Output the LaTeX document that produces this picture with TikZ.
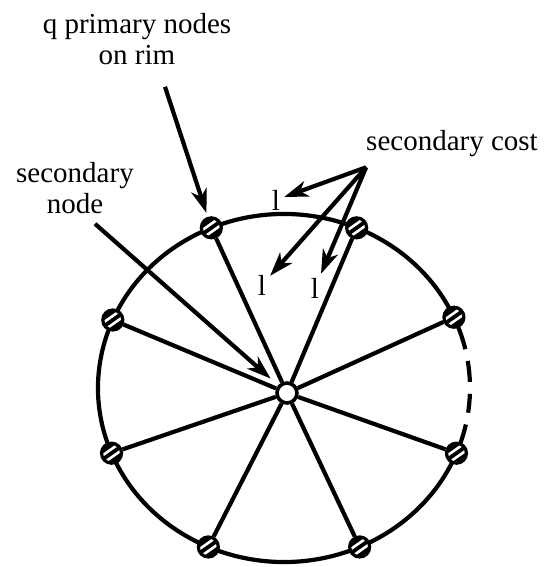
\documentclass[tikz,border=0pt]{standalone}
\usepackage{fontspec}
\setmainfont{Liberation Serif}
\usetikzlibrary{arrows.meta, positioning}

\begin{document}
\begin{tikzpicture}[
    x=1pt, y=1pt,
    line width=2.1pt,
    txt/.style={font=\fontsize{14.5}{15.5}\selectfont, align=center, inner sep=1pt},
    hub/.style={circle, draw, fill=white, minimum size=10pt, inner sep=0pt, line width=1.8pt},
    rim/.style={circle, draw, fill=black, minimum size=10pt, inner sep=0pt, line width=1.6pt,
        path picture={\draw[white, line width=1.3pt]
            (path picture bounding box.center) ++(-5.9pt,-2.1pt) -- ++(9.8pt,6.9pt)
            (path picture bounding box.center) ++(-3.9pt,-4.8pt) -- ++(9.8pt,6.9pt);}},
    arr/.style={-{Stealth[length=12pt, width=8pt, inset=3.5pt]}, line width=2.1pt}
]
    \useasboundingbox (-142,-89.5) rectangle (130,194);

    % Rim, dashed on the right
    \draw (24:93pt and 87pt) arc[start angle=24, end angle=338, x radius=93pt, y radius=87pt];
    \draw[dash pattern=on 17pt off 6pt on 10.5pt off 6pt on 9.5pt off 6pt on 30pt]
        (24:93pt and 87pt) arc[start angle=24, end angle=-22, x radius=93pt, y radius=87pt];

    % Primary nodes on the rim
    \foreach \ang [count=\i] in {24, 67, 113, 157, 202, 246, 294, 338}
        \node[rim] (p\i) at (\ang:93pt and 87pt) {};

    % Secondary node and spokes
    \node[hub] (hub) at (1.5,-2.5) {};
    \foreach \i in {1,...,8}
        \draw (hub) -- (p\i);

    % Labels
    \node[txt] (qlabel) at (-73.5,174.5) {q primary nodes\\on rim};
    \node[txt] (costlabel) at (84,122) {secondary cost};
    \node[txt] (seclabel) at (-104.5,100) {secondary\\node};
    \node[txt] (l1) at (-4,94) {l};
    \node[txt] (l2) at (-11,51.5) {l};
    \node[txt] (l3) at (15.5,50) {l};

    % Pointers
    \draw[arr, shorten >=2pt] ([xshift=14pt,yshift=-9pt]qlabel.south) -- (p3);
    \draw[arr, shorten >=5pt] ([xshift=10pt,yshift=-3pt]seclabel.south) -- (hub);
    \coordinate (fan) at ([xshift=2pt,yshift=-3pt]costlabel.south west);
    \foreach \j in {1,2,3}
        \draw[arr] (fan) -- (l\j);
\end{tikzpicture}
\end{document}
